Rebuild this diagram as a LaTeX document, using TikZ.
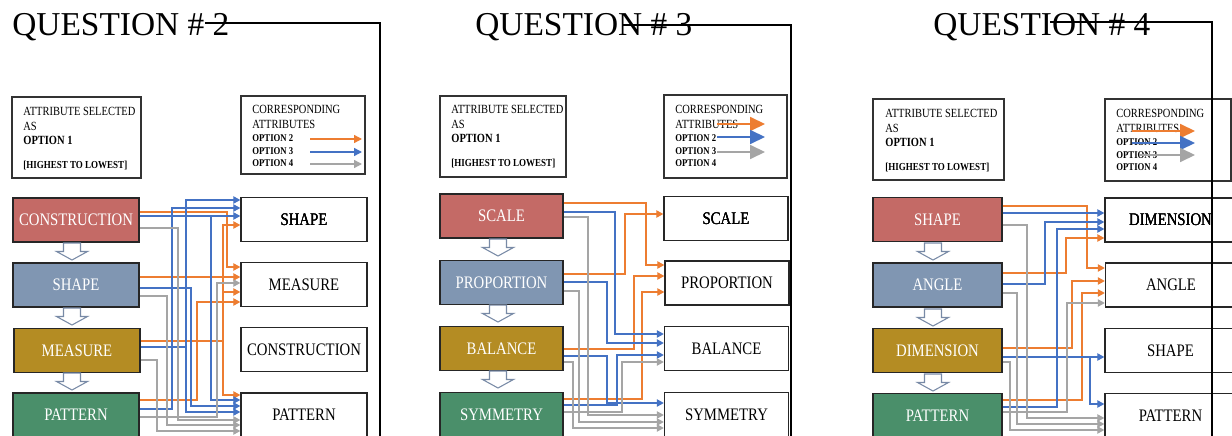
\documentclass[tikz,border=0pt]{standalone}
\usepackage{fontspec}
\setmainfont{Liberation Serif}
\newfontfamily\narrowfont[FakeStretch=0.84]{Liberation Serif}
\usetikzlibrary{arrows.meta}

\definecolor{optorange}{RGB}{237,125,49}
\definecolor{optblue}{RGB}{68,114,196}
\definecolor{optgray}{RGB}{165,165,165}
\definecolor{boxred}{RGB}{196,106,102}
\definecolor{boxslate}{RGB}{128,150,178}
\definecolor{boxgold}{RGB}{180,140,35}
\definecolor{boxgreen}{RGB}{74,143,106}
\definecolor{slateline}{RGB}{120,138,166}

% legend texts, #1 = name prefix, #2 = left x, #3 = first baseline
\newcommand{\selectlegend}[3]{%
  \node[legtxt] (#1a) at (#2,#3) {ATTRIBUTE SELECTED};
  \node[legtxt] (#1b) at (#2,#3+15) {AS};
  \node[legopt] (#1c) at (#2,#3+29) {OPTION 1};
  \node[legrank] (#1d) at (#2,#3+53) {[HIGHEST TO LOWEST]};
}
\newcommand{\corrlegend}[3]{%
  \node[legtxt] (#1a) at (#2,#3) {CORRESPONDING};
  \node[legtxt] (#1b) at (#2,#3+15) {ATTRIBUTES};
  \node[legsmall] (#1c) at (#2,#3+28.5) {OPTION 2};
  \node[legsmall] (#1d) at (#2,#3+41) {OPTION 3};
  \node[legsmall] (#1e) at (#2,#3+53.5) {OPTION 4};
}
% hollow down arrow, #1 = centre x, #2 = top y
\newcommand{\downblock}[2]{%
  \draw[blockarr] (#1,#2) ++(-8.5,0) -- ++(17,0) -- ++(0,8.5) -- ++(7,0)
    -- ++(-15.5,8.5) -- ++(-15.5,-8.5) -- ++(7,0) -- cycle;
}

\begin{document}
\begin{tikzpicture}[x=0.02cm,y=-0.02cm,
  qtitle/.style={anchor=base west,inner sep=0pt,font=\fontsize{19}{22}\selectfont},
  legtxt/.style={anchor=base west,inner sep=0pt,font=\narrowfont\fontsize{7.1}{8}\selectfont},
  legopt/.style={anchor=base west,inner sep=0pt,font=\narrowfont\bfseries\fontsize{7.1}{8}\selectfont},
  legrank/.style={anchor=base west,inner sep=0pt,font=\narrowfont\bfseries\fontsize{6.1}{7}\selectfont},
  legsmall/.style={anchor=base west,inner sep=0pt,font=\narrowfont\bfseries\fontsize{5.9}{7}\selectfont},
  frame/.style={draw=black!80,line width=0.6pt},
  rule/.style={draw=black,line width=0.85pt},
  attr/.style={draw=black!85,line width=1.1pt,minimum width=2.52cm,minimum height=0.88cm,
    inner sep=0pt,text=white,font=\narrowfont\fontsize{10}{12}\selectfont},
  corr/.style={draw=black!85,line width=0.8pt,minimum width=2.52cm,minimum height=0.88cm,
    inner sep=0pt,font=\narrowfont\fontsize{10}{12}\selectfont},
  blockarr/.style={draw=slateline,fill=white,line width=0.6pt},
  opt2/.style={draw=optorange,line width=0.8pt,-{Triangle[length=4pt,width=4.2pt]}},
  opt3/.style={draw=optblue,line width=0.8pt,-{Triangle[length=4pt,width=4.2pt]}},
  opt4/.style={draw=optgray,line width=0.8pt,-{Triangle[length=4pt,width=4.2pt]}},
  smalltip/.style={-{Triangle[length=4.5pt,width=4.5pt]}},
  bigtip/.style={-{Triangle[length=8.5pt,width=8pt]}}]
\useasboundingbox[fill=white] (0,0) rectangle (1232,436);

% question 2
\node[qtitle] (q2) at (12,35) {QUESTION \# 2};
\draw[frame] (12,97) rectangle (141,178);
\selectlegend{s2}{23}{115}
\draw[frame] (241,96) rectangle (365,174);
\corrlegend{k2}{252}{113}
\draw[opt2,smalltip] (310,139) -- (362,139);
\draw[opt3,smalltip] (310,152) -- (362,152);
\draw[opt4,smalltip] (310,164) -- (362,164);

\node[attr,fill=boxred] (sel2con) at (76,220) {CONSTRUCTION};
\node[attr,fill=boxslate] (sel2sha) at (76,285) {SHAPE};
\node[attr,fill=boxgold] (sel2mea) at (77,350.5) {MEASURE};
\node[attr,fill=boxgreen] (sel2pat) at (76,415) {PATTERN};
\foreach \t in {243,308,373} \downblock{72}{\t}
\node[corr] (cor2sha) at (304,219.5) {SHAPE};
\node[corr] (cor2mea) at (304,284.5) {MEASURE};
\node[corr] (cor2con) at (304,349.5) {CONSTRUCTION};
\node[corr] (cor2pat) at (304,415) {PATTERN};

\draw[opt2] (sel2con.east |- 0,212) -| (227,267) -- (cor2mea.west |- 0,267);
\draw[opt2] (sel2sha.east |- 0,277) -- (cor2mea.west |- 0,277);
\draw[opt2] (sel2mea.east |- 0,341) -| (223,225) -- (cor2sha.west |- 0,225);
\draw[opt2] (sel2mea.east |- 0,341) -| (223,395) -- (cor2pat.west |- 0,395);
\draw[opt2] (sel2mea.east |- 0,341) -| (223,292) -- (cor2mea.west |- 0,292);
\draw[opt2] (sel2pat.east |- 0,400) -| (197,302) -- (cor2mea.west |- 0,302);
\draw[opt3] (sel2mea.east |- 0,347) -| (186,200) -- (cor2sha.west |- 0,200);
\draw[opt3] (sel2pat.east |- 0,409) -| (172,208) -- (cor2sha.west |- 0,208);
\draw[opt3] (sel2con.east |- 0,216) -- (cor2sha.west |- 0,216);
\draw[opt3] (sel2con.east |- 0,216) -| (211,400) -- (cor2pat.west |- 0,400);
\draw[opt3] (sel2sha.east |- 0,288) -| (191,406) -- (cor2pat.west |- 0,406);
\draw[opt3] (sel2mea.east |- 0,347) -| (186,412) -- (cor2pat.west |- 0,412);
\draw[opt4] (sel2con.east |- 0,228) -| (178,420) -- (cor2pat.west |- 0,420);
\draw[opt4] (sel2sha.east |- 0,296) -| (167,425) -- (cor2pat.west |- 0,425);
\draw[opt4] (sel2mea.east |- 0,360) -| (157,431) -- (cor2pat.west |- 0,431);
\draw[opt4] (sel2pat.east |- 0,417) -| (217,283) -- (cor2mea.west |- 0,283);

% question 3
\node[qtitle] (q3) at (475,35) {QUESTION \# 3};
\draw[frame] (440,96) rectangle (566,177);
\selectlegend{s3}{451}{113}
\draw[frame] (664,95) rectangle (787,178);
\corrlegend{k3}{675}{113}
\draw[opt2,bigtip] (717,124) -- (765,124);
\draw[opt3,bigtip] (717,137) -- (765,137);
\draw[opt4,bigtip] (717,152) -- (765,152);

\node[attr,fill=boxred,minimum width=2.46cm] (sel3sca) at (501.5,216) {SCALE};
\node[attr,fill=boxslate,minimum width=2.46cm] (sel3pro) at (501.5,282.5) {PROPORTION};
\node[attr,fill=boxgold,minimum width=2.46cm] (sel3bal) at (501.5,348.5) {BALANCE};
\node[attr,fill=boxgreen,minimum width=2.46cm] (sel3sym) at (501.5,414.5) {SYMMETRY};
\foreach \t in {239,305,371} \downblock{498}{\t}
\node[corr,minimum width=2.48cm] (cor3sca) at (726,218.5) {SCALE};
\node[corr,minimum width=2.48cm] (cor3pro) at (727,283) {PROPORTION};
\node[corr,minimum width=2.48cm] (cor3bal) at (726.5,348.5) {BALANCE};
\node[corr,minimum width=2.48cm] (cor3sym) at (726.5,414.5) {SYMMETRY};

\draw[opt2] (sel3sca.east |- 0,203) -| (646,265) -- (cor3pro.west |- 0,265);
\draw[opt2] (sel3pro.east |- 0,274) -| (625,214) -- (cor3sca.west |- 0,214);
\draw[opt2] (sel3bal.east |- 0,349) -| (634,276) -- (cor3pro.west |- 0,276);
\draw[opt2] (sel3sym.east |- 0,399) -| (642,292) -- (cor3pro.west |- 0,292);
\draw[opt3] (sel3sca.east |- 0,212) -| (615,334) -- (cor3bal.west |- 0,334);
\draw[opt3] (sel3pro.east |- 0,282) -| (607,343) -- (cor3bal.west |- 0,343);
\draw[opt3] (sel3bal.east |- 0,356) -| (607,403) -- (cor3sym.west |- 0,403);
\draw[opt3] (sel3sym.east |- 0,405) -| (617,355) -- (cor3bal.west |- 0,355);
\draw[opt4] (sel3sca.east |- 0,217) -| (588,415) -- (cor3sym.west |- 0,415);
\draw[opt4] (sel3pro.east |- 0,291) -| (579,422) -- (cor3sym.west |- 0,422);
\draw[opt4] (sel3bal.east |- 0,362) -| (573,428) -- (cor3sym.west |- 0,428);
\draw[opt4] (sel3sym.east |- 0,412) -| (622,362) -- (cor3bal.west |- 0,362);

% question 4
\node[qtitle] (q4) at (933,35) {QUESTION \# 4};
\draw[frame] (873,99) rectangle (1004,180);
\selectlegend{s4}{885}{117}
\draw[frame] (1105,99) rectangle (1231,181);
\corrlegend{k4}{1116}{117}
\draw[opt2,bigtip] (1132,131) -- (1195,131);
\draw[opt3,bigtip] (1132,143) -- (1195,143);
\draw[opt4,bigtip] (1140,155) -- (1195,155);

\node[attr,fill=boxred,minimum width=2.58cm] (sel4sha) at (937.5,219.5) {SHAPE};
\node[attr,fill=boxslate,minimum width=2.58cm] (sel4ang) at (937.5,285) {ANGLE};
\node[attr,fill=boxgold,minimum width=2.58cm] (sel4dim) at (937.5,350.5) {DIMENSION};
\node[attr,fill=boxgreen,minimum width=2.58cm] (sel4pat) at (937.5,415.5) {PATTERN};
\foreach \t in {243,309,374} \downblock{933}{\t}
\node[corr,minimum width=2.62cm] (cor4dim) at (1170.5,220) {DIMENSION};
\node[corr,minimum width=2.62cm] (cor4ang) at (1171,285) {ANGLE};
\node[corr,minimum width=2.62cm] (cor4sha) at (1170.5,350.5) {SHAPE};
\node[corr,minimum width=2.62cm] (cor4pat) at (1170.5,415.5) {PATTERN};

\draw[opt2] (sel4sha.east |- 0,206) -| (1087,268) -- (cor4ang.west |- 0,268);
\draw[opt2] (sel4ang.east |- 0,273) -| (1066,238) -- (cor4dim.west |- 0,238);
\draw[opt2] (sel4dim.east |- 0,348) -| (1072,281) -- (cor4ang.west |- 0,281);
\draw[opt2] (sel4pat.east |- 0,400) -| (1082,293) -- (cor4ang.west |- 0,293);
\draw[opt3] (sel4sha.east |- 0,213) -- (cor4dim.west |- 0,213);
\draw[opt3] (sel4ang.east |- 0,284) -| (1045,222) -- (cor4dim.west |- 0,222);
\draw[opt3] (sel4dim.east |- 0,357) -- (cor4sha.west |- 0,357);
\draw[opt3] (sel4dim.east |- 0,357) -| (1090,404) -- (cor4pat.west |- 0,404);
\draw[opt3] (sel4pat.east |- 0,407) -| (1057,229) -- (cor4dim.west |- 0,229);
\draw[opt4] (sel4sha.east |- 0,225) -| (1027,418) -- (cor4pat.west |- 0,418);
\draw[opt4] (sel4ang.east |- 0,293) -| (1017,424) -- (cor4pat.west |- 0,424);
\draw[opt4] (sel4dim.east |- 0,362) -| (1010,430) -- (cor4pat.west |- 0,430);
\draw[opt4] (sel4pat.east |- 0,412) -| (1067,303) -- (cor4ang.west |- 0,303);

% title rules, drawn over everything
\draw[rule] (205,23) -| (380,440);
\draw[rule] (623,25) -| (791,440);
\draw[rule] (1050,22) -| (1212,440);
\end{tikzpicture}
\end{document}
